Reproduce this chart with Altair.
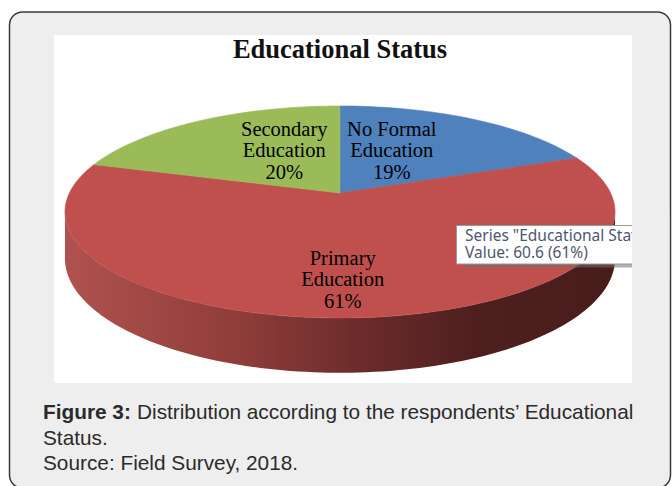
import altair as alt
import numpy as np
import pandas as pd

# ---------------- data ----------------
categories = ["No Formal Education", "Primary Education", "Secondary Education"]
values = [19.1, 60.6, 20.3]
label_names = ["No Formal\nEducation", "Primary\nEducation", "Secondary\nEducation"]
colors = ["#4f81bd", "#c0504d", "#9bbb59"]
chart_title = "Educational Status"
caption_bold = "Figure 3:"
caption_line1 = "Distribution according to the respondents\u2019 Educational"
caption_line2 = "Status."
caption_line3 = "Source: Field Survey, 2018."
hover_index = 1

# ---------------- layout ----------------
W, H = 672, 486
CX, CY = 340.0, 193.0          # pie centre on screen
A, B, P = 270.6, 102.6, 0.179  # perspective ellipse parameters
DEPTH = 45.0
LABEL_R = [0.49, 0.74, 0.49]
LABEL_DX = [-18, -6, 18]
LABEL_DY = [-24.5, -21.5, -25.5]


def project(r, theta):
    X = r * np.sin(theta)
    Z = r * np.cos(theta)
    d = 1 + P * Z
    return CX + A * X / d, CY - B * Z / d, d


total = float(sum(values))
fracs = [v / total for v in values]
pcts = [int(round(f * 100)) for f in fracs]
starts = np.concatenate([[0.0], np.cumsum(fracs)[:-1]])

# top-face slice polygons
slice_rows = []
for i, cat in enumerate(categories):
    slice_rows.append({"cat": cat, "o": -1, "px": CX, "py": CY})
    n = max(8, int(200 * fracs[i]))
    for k in range(n + 1):
        th = 2 * np.pi * (starts[i] + fracs[i] * k / n)
        px, py, _ = project(1.0, th)
        slice_rows.append({"cat": cat, "o": k, "px": px, "py": py})
slices = pd.DataFrame(slice_rows)

# front side wall
t0, t1 = np.arccos(-P), 2 * np.pi - np.arccos(-P)
wall_rows = []
for th in np.linspace(t0, t1, 120):
    px, py, d = project(1.0, th)
    wall_rows.append({"px": px, "top": py, "bot": py + DEPTH / d})
wall = pd.DataFrame(wall_rows)

# labels
lab_rows = []
for i, cat in enumerate(categories):
    mid = 2 * np.pi * (starts[i] + fracs[i] / 2)
    px, py, _ = project(LABEL_R[i], mid)
    lab_rows.append({"px": px + LABEL_DX[i], "py": py + LABEL_DY[i],
                     "txt": f"{label_names[i]}\n{pcts[i]}%"})
labels = pd.DataFrame(lab_rows)

one = pd.DataFrame([{"a": 1}])

xs = alt.Scale(domain=[0, W], nice=False, zero=False)
ys = alt.Scale(domain=[0, H], nice=False, zero=False, reverse=True)
X = lambda f: alt.X(f, type="quantitative", scale=xs, axis=None)
Y = lambda f: alt.Y(f, type="quantitative", scale=ys, axis=None)


def rect(x, x2, y, y2, **kw):
    return alt.Chart(one).mark_rect(**kw).encode(
        x=alt.value(x), x2=alt.value(x2), y=alt.value(y), y2=alt.value(y2))


def text(s, x, y, **kw):
    return alt.Chart(one).mark_text(text=s, baseline="alphabetic", **kw).encode(
        x=alt.value(x), y=alt.value(y))


frame = rect(9.5, 670.5, 12, 488, fill="#eeeeee", stroke="#3a3a3a",
             strokeWidth=1.5, cornerRadius=13)
panel = rect(54, 632, 35, 383, fill="#ffffff")

wall_layer = alt.Chart(wall).mark_area(
    fill=alt.Gradient(gradient="linear", x1=0, x2=1, y1=0, y2=0,
                      stops=[alt.GradientStop(offset=0, color="#b0524f"),
                             alt.GradientStop(offset=0.3, color="#913e3b"),
                             alt.GradientStop(offset=0.55, color="#6a2b2a"),
                             alt.GradientStop(offset=0.75, color="#4e1f1f"),
                             alt.GradientStop(offset=1, color="#491c1c")]),
    orient="vertical"
).encode(x=X("px"), y=Y("top"), y2="bot")

cscale = alt.Scale(domain=categories, range=colors)
slice_layer = alt.Chart(slices).mark_line(
    filled=True, interpolate="linear-closed", strokeWidth=0.6
).encode(
    x=X("px"), y=Y("py"),
    color=alt.Color("cat:N", scale=cscale, legend=None),
    stroke=alt.Stroke("cat:N", scale=cscale, legend=None),
    order=alt.Order("o:Q"),
    detail="cat:N",
)

label_layer = alt.Chart(labels).mark_text(
    font="Liberation Serif", fontSize=20.5, lineBreak="\n", lineHeight=21.5,
    align="center", baseline="middle", color="#000000"
).encode(x=X("px"), y=Y("py"), text="txt:N")

title_layer = text(chart_title, 340, 58, font="Liberation Serif", fontSize=26.5,
                   fontWeight="bold", align="center", color="#111111")

tip_name = f'Series "{chart_title}" Point "{categories[hover_index]}"'
tip_val = f"Value: {values[hover_index]} ({pcts[hover_index]}%)"
tip_font = dict(font="Noto Sans", fontSize=15.5, align="left", color="#4d5670")
tip_shadow = rect(465, 650, 229, 267.5, fill="#6e6e6e", opacity=0.55)
tip_box = rect(456.5, 650, 225.5, 264, fill="#ffffff", stroke="#9a9a9a", strokeWidth=1)
tip_t1 = text(tip_name, 465, 240.5, limit=195, ellipsis="", **tip_font)
tip_t2 = text(tip_val, 465, 258, **tip_font)
clip = rect(632, 669.3, 215, 280, fill="#eeeeee")

cap_font = dict(font="Liberation Sans", fontSize=20.8, align="left", color="#2b2b2b")
cap0 = text(caption_bold, 43, 419, fontWeight="bold", **cap_font)
cap1 = text(caption_line1, 137, 419, **cap_font)
cap2 = text(caption_line2, 43, 445, **cap_font)
cap3 = text(caption_line3, 43, 470, **cap_font)

chart = alt.layer(
    frame, panel, wall_layer, slice_layer, label_layer, title_layer,
    tip_shadow, tip_box, tip_t1, tip_t2, clip, cap0, cap1, cap2, cap3
).properties(
    width=W, height=H, padding=0, autosize=alt.AutoSizeParams(type="none"),
    background="#ffffff"
).configure_view(stroke=None)

chart.save("out.html", embed_options={"renderer": "svg", "actions": False})
